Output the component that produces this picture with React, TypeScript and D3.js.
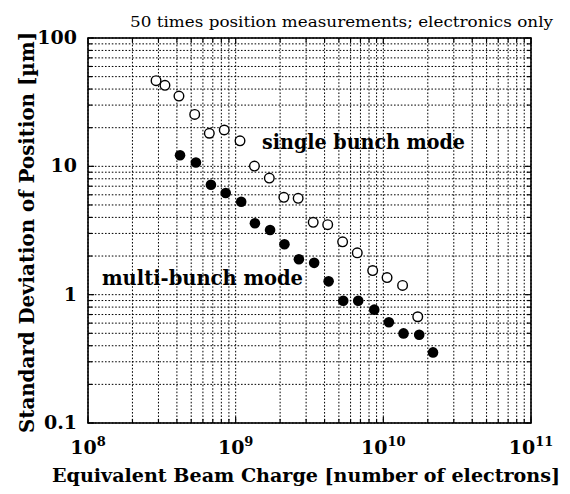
import { useEffect, useRef } from "react";
import * as d3 from "d3";

// open circles: single bunch mode
const singleCharge = [
  2.89e8, 3.32e8, 4.13e8, 5.28e8, 6.63e8, 8.37e8, 1.07e9, 1.34e9, 1.69e9, 2.12e9,
  2.65e9, 3.35e9, 4.2e9, 5.3e9, 6.66e9, 8.47e9, 1.06e10, 1.35e10, 1.71e10,
];
const singleSigma = [
  46.5, 42.8, 35.3, 25.4, 18.1, 19.2, 15.8, 10.05, 8.1, 5.73,
  5.63, 3.66, 3.51, 2.58, 2.12, 1.54, 1.36, 1.18, 0.673,
];

// filled circles: multi-bunch mode
const multiCharge = [
  4.2e8, 5.38e8, 6.8e8, 8.56e8, 1.09e9, 1.35e9, 1.71e9, 2.14e9, 2.68e9,
  3.4e9, 4.26e9, 5.35e9, 6.76e9, 8.68e9, 1.09e10, 1.37e10, 1.75e10, 2.17e10,
];
const multiSigma = [
  12.2, 10.7, 7.19, 6.19, 5.3, 3.6, 3.19, 2.47, 1.89,
  1.77, 1.27, 0.897, 0.897, 0.764, 0.609, 0.499, 0.487, 0.355,
];

const xExponents = [8, 9, 10, 11];
const yTickValues = [100, 10, 1, 0.1];
const yTickLabels = ["100", "10", "1", "0.1"];

const serif = "'DejaVu Serif', serif";

export default function App() {
  const svgRef = useRef<SVGSVGElement>(null);

  useEffect(() => {
    const svg = d3.select(svgRef.current);
    svg.selectAll("*").remove();

    const left = 88, right = 531, top = 38, bottom = 423;
    const x = d3.scaleLog().domain([1e8, 1e11]).range([left, right]);
    const y = d3.scaleLog().domain([0.1, 100]).range([bottom, top]);

    const xt = x.ticks();
    const yt = y.ticks();

    // dotted grid
    const grid = svg.append("g").attr("stroke", "#000").attr("stroke-width", 1)
      .attr("stroke-dasharray", "1.6,1.8");
    grid.selectAll(".vx").data(xt).join("line")
      .attr("x1", (d) => x(d)).attr("x2", (d) => x(d))
      .attr("y1", top).attr("y2", bottom);
    grid.selectAll(".hy").data(yt).join("line")
      .attr("x1", left).attr("x2", right)
      .attr("y1", (d) => y(d)).attr("y2", (d) => y(d));

    // inward ticks on all sides
    const ticks = svg.append("g").attr("stroke", "#000").attr("stroke-width", 1.2);
    const isMajor = (d: number) => Math.abs(Math.log10(d) - Math.round(Math.log10(d))) < 1e-6;
    xt.forEach((d) => {
      const l = isMajor(d) ? 6 : 4;
      ticks.append("line").attr("x1", x(d)).attr("x2", x(d)).attr("y1", bottom).attr("y2", bottom - l);
      ticks.append("line").attr("x1", x(d)).attr("x2", x(d)).attr("y1", top).attr("y2", top + l);
    });
    yt.forEach((d) => {
      const l = isMajor(d) ? 6 : 4;
      ticks.append("line").attr("y1", y(d)).attr("y2", y(d)).attr("x1", left).attr("x2", left + l);
      ticks.append("line").attr("y1", y(d)).attr("y2", y(d)).attr("x1", right).attr("x2", right - l);
    });

    // frame
    svg.append("rect")
      .attr("x", left).attr("y", top)
      .attr("width", right - left).attr("height", bottom - top)
      .attr("fill", "none").attr("stroke", "#000").attr("stroke-width", 1.6);

    // y tick labels
    svg.append("g").selectAll("text").data(yTickValues).join("text")
      .attr("x", 77).attr("y", (d) => y(d) + 6)
      .attr("text-anchor", "end")
      .attr("font-family", serif).attr("font-weight", "bold").attr("font-size", 19)
      .text((d, i) => yTickLabels[i]);

    // x tick labels 10^n
    const xl = svg.append("g").selectAll("text").data(xExponents).join("text")
      .attr("x", (d) => x(Math.pow(10, d)))
      .attr("y", 454)
      .attr("text-anchor", "middle")
      .attr("font-family", serif).attr("font-weight", "bold").attr("font-size", 19);
    xl.append("tspan").text("10");
    xl.append("tspan").attr("dy", -8).attr("font-size", 13).text((d) => String(d));

    // series
    svg.append("g").selectAll("circle").data(singleCharge).join("circle")
      .attr("cx", (d) => x(d)).attr("cy", (d, i) => y(singleSigma[i]))
      .attr("r", 4.8).attr("fill", "#fff").attr("stroke", "#000").attr("stroke-width", 1.4);
    svg.append("g").selectAll("circle").data(multiCharge).join("circle")
      .attr("cx", (d) => x(d)).attr("cy", (d, i) => y(multiSigma[i]))
      .attr("r", 5.3).attr("fill", "#000");

    // annotations
    const ann = (t: string, ax: number, ay: number, len: number) =>
      svg.append("text").attr("x", ax).attr("y", ay)
        .attr("font-family", serif).attr("font-weight", "bold").attr("font-size", 21)
        .attr("textLength", len).attr("lengthAdjust", "spacingAndGlyphs")
        .text(t);
    ann("single bunch mode", 262, 149, 203);
    ann("multi-bunch mode", 102, 285, 201);

    // titles
    svg.append("text").attr("x", 130).attr("y", 27)
      .attr("font-family", serif).attr("font-size", 15)
      .attr("textLength", 423).attr("lengthAdjust", "spacingAndGlyphs")
      .text("50 times position measurements; electronics only");

    svg.append("text").attr("x", 52).attr("y", 482)
      .attr("font-family", serif).attr("font-weight", "bold").attr("font-size", 19)
      .attr("textLength", 508).attr("lengthAdjust", "spacingAndGlyphs")
      .text("Equivalent Beam Charge [number of electrons]");

    svg.append("text")
      .attr("transform", "translate(34,433) rotate(-90)")
      .attr("font-family", serif).attr("font-weight", "bold").attr("font-size", 20)
      .attr("textLength", 401).attr("lengthAdjust", "spacingAndGlyphs")
      .text("Standard Deviation of Position [µm]");
  }, []);

  return (
    <svg
      ref={svgRef}
      width={570}
      height={494}
      style={{ position: "absolute", left: 0, top: 0, background: "#fff" }}
    />
  );
}
